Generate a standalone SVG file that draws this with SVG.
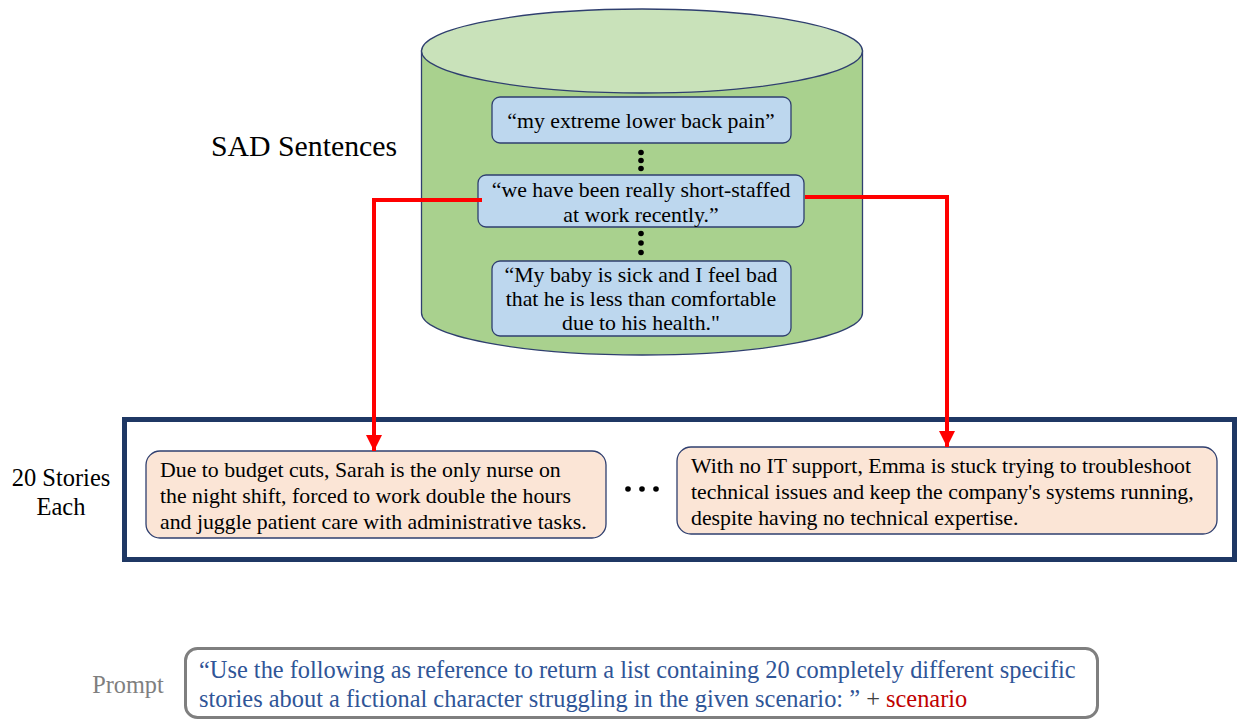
<svg xmlns="http://www.w3.org/2000/svg" width="1239" height="719" viewBox="0 0 1239 719">
  <defs>
    <marker id="redHead" viewBox="0 0 10 10" refX="10" refY="5" markerWidth="4" markerHeight="4.5" orient="auto" markerUnits="strokeWidth">
      <path d="M0,0 L10,5 L0,10 Z" fill="#FF0000"/>
    </marker>
  </defs>
  <style>
    text { font-family: "Liberation Serif", "Times New Roman", serif; }
    .sent { fill: #BDD7EE; stroke: #2F3F6F; stroke-width: 1.3; }
    .story { fill: #FBE5D6; stroke: #2F3F6F; stroke-width: 1.3; }
    .t20 { font-size: 21.8px; fill: #000; }
    .mid { text-anchor: middle; }
    .red { fill: none; stroke: #FF0000; stroke-width: 4; }
  </style>
  <rect width="1239" height="719" fill="#FFFFFF"/>

  <!-- database cylinder -->
  <g id="database">
    <path d="M421.5,51 L421.5,313 A220.5,42 0 0 0 862.5,313 L862.5,51 Z" fill="#A9D18E" stroke="#2F3F6F" stroke-width="1.3"/>
    <ellipse cx="642" cy="51" rx="220.5" ry="42" fill="#C9E2BA" stroke="#2F3F6F" stroke-width="1.3"/>
  </g>

  <g id="label-sad">
    <text x="304" y="156" font-size="29.8" class="mid">SAD Sentences</text>
  </g>

  <g id="sentence-1">
    <rect class="sent" x="492" y="97" width="299" height="46" rx="8"/>
    <text class="t20 mid" x="641" y="128">“my extreme lower back pain”</text>
  </g>

  <g id="dots-1" fill="#000">
    <circle cx="641" cy="152.5" r="2.8"/>
    <circle cx="641" cy="160.5" r="2.8"/>
    <circle cx="641" cy="168.5" r="2.8"/>
  </g>

  <g id="sentence-2">
    <rect class="sent" x="478" y="175" width="326" height="52" rx="8"/>
    <text class="t20 mid" x="641" y="197">“we have been really short-staffed</text>
    <text class="t20 mid" x="641" y="222">at work recently.”</text>
  </g>

  <g id="dots-2" fill="#000">
    <circle cx="641" cy="233.5" r="2.8"/>
    <circle cx="641" cy="243" r="2.8"/>
    <circle cx="641" cy="252.5" r="2.8"/>
  </g>

  <g id="sentence-3">
    <rect class="sent" x="492" y="261" width="299" height="75" rx="8"/>
    <text class="t20 mid" x="641" y="282">“My baby is sick and I feel bad</text>
    <text class="t20 mid" x="641" y="306">that he is less than comfortable</text>
    <text class="t20 mid" x="641" y="330">due to his health."</text>
  </g>

  <!-- stories container -->
  <g id="stories-frame">
    <rect x="124.5" y="419.5" width="1110" height="140" fill="none" stroke="#1F3864" stroke-width="5"/>
  </g>

  <g id="label-stories">
    <text x="61" y="486" font-size="24.5" class="mid">20 Stories</text>
    <text x="61" y="515" font-size="24.5" class="mid">Each</text>
  </g>

  <g id="story-1">
    <rect class="story" x="146" y="451" width="460" height="87" rx="14"/>
    <text class="t20" x="160" y="477">Due to budget cuts, Sarah is the only nurse on</text>
    <text class="t20" x="160" y="503">the night shift, forced to work double the hours</text>
    <text class="t20" x="160" y="529">and juggle patient care with administrative tasks.</text>
  </g>

  <g id="story-ellipsis" fill="#000">
    <circle cx="628" cy="489" r="2.8"/>
    <circle cx="642" cy="489" r="2.8"/>
    <circle cx="656" cy="489" r="2.8"/>
  </g>

  <g id="story-2">
    <rect class="story" x="677" y="447" width="540" height="87" rx="14"/>
    <text class="t20" x="691" y="473">With no IT support, Emma is stuck trying to troubleshoot</text>
    <text class="t20" x="691" y="499">technical issues and keep the company's systems running,</text>
    <text class="t20" x="691" y="525">despite having no technical expertise.</text>
  </g>

  <!-- connectors from the selected sentence down to its stories -->
  <g id="connectors">
    <path class="red" d="M482,200 L374,200 L374,451" marker-end="url(#redHead)"/>
    <path class="red" d="M805,197 L947,197 L947,447" marker-end="url(#redHead)"/>
  </g>

  <!-- prompt -->
  <g id="prompt-label">
    <text x="128" y="693" font-size="24.3" fill="#7F7F7F" class="mid">Prompt</text>
  </g>
  <g id="prompt">
    <rect x="185.5" y="648.5" width="912" height="69" rx="12" fill="#FFFFFF" stroke="#7F7F7F" stroke-width="3"/>
    <text x="199" y="678" font-size="24.4" fill="#2F5597">“Use the following as reference to return a list containing 20 completely different specific</text>
    <text x="199" y="707" font-size="24.4" fill="#2F5597">stories about a fictional character struggling in the given scenario: ” <tspan fill="#404040">+</tspan> <tspan fill="#C00000">scenario</tspan></text>
  </g>
</svg>
